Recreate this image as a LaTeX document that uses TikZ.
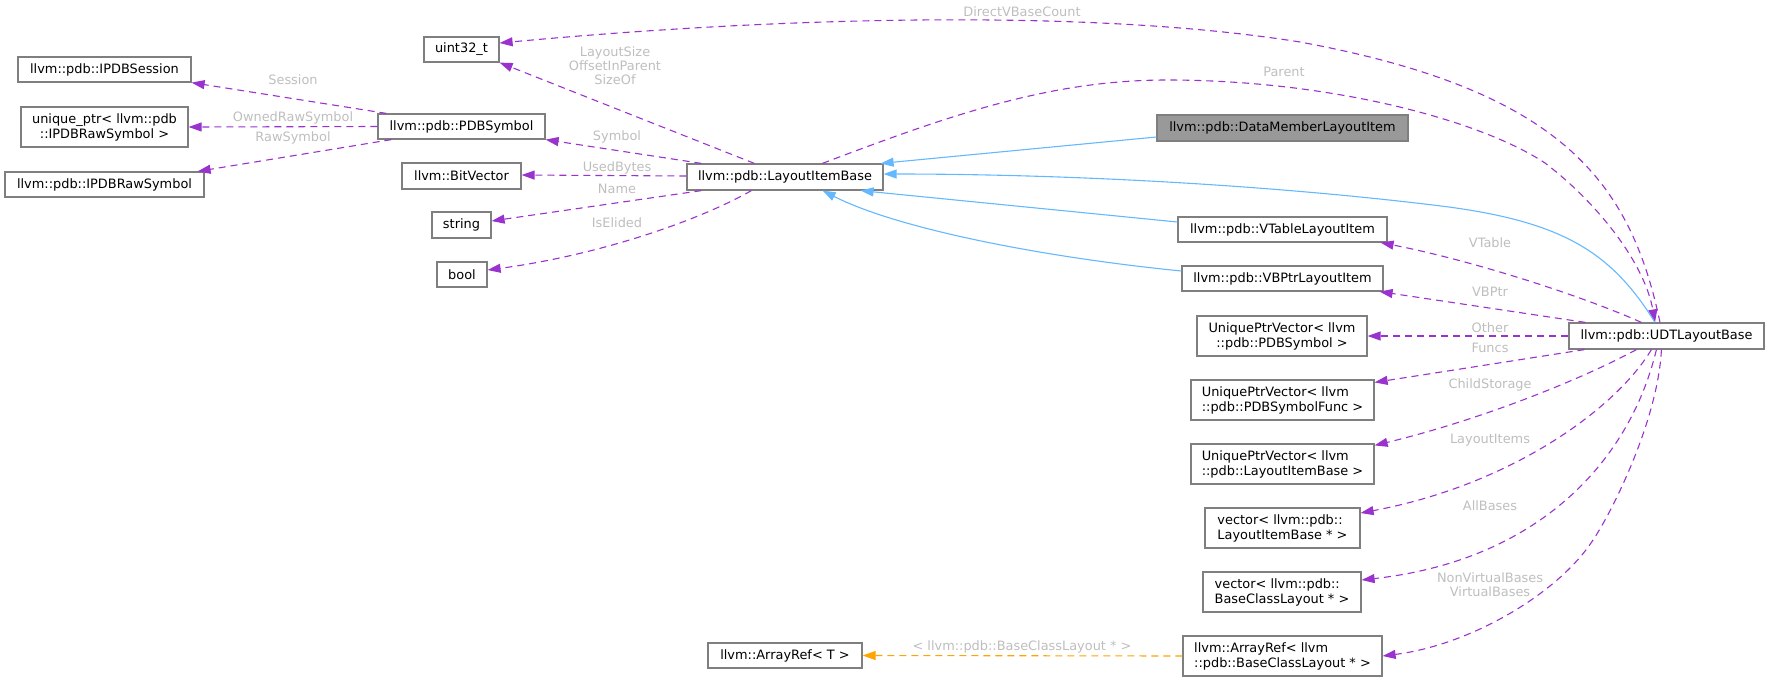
\documentclass[tikz,border=0pt]{standalone}
\usepackage{fontspec}
\setmainfont{DejaVu Sans}
\usetikzlibrary{arrows.meta}
\definecolor{purp}{HTML}{9A32CD}
\definecolor{blu}{HTML}{63B8FF}
\definecolor{orng}{HTML}{FFA500}
\definecolor{boxgray}{HTML}{7F7F7F}
\definecolor{lblgray}{HTML}{BEBEBE}
\definecolor{fillgray}{HTML}{999999}
\begin{document}
\begin{tikzpicture}[x=1pt,y=-1pt,
  box/.style={draw=boxgray, line width=1.2pt, fill=white, inner sep=0pt, text=black,
    font=\fontsize{12.9}{15}\selectfont},
  lbl/.style={text=lblgray, inner sep=0pt, font=\fontsize{12.9}{14}\selectfont, align=center},
  member/.style={draw=purp, line width=1.1pt, dash pattern=on 7pt off 5pt,
    -{Triangle[length=13pt,width=9pt,fill=purp]}},
  inherit/.style={draw=blu, line width=1.1pt, -{Triangle[length=13pt,width=9pt,fill=blu]}},
  tmpl/.style={draw=orng, line width=1.1pt, dash pattern=on 7pt off 5pt,
    -{Triangle[length=13pt,width=9pt,fill=orng]}}]
\useasboundingbox (0,0) rectangle (1769,681);

% nodes
\node[box, minimum width=173pt, minimum height=25pt] (ipdbsession) at (104.5,69.5) {llvm::pdb::IPDBSession};
\node[box, minimum width=167pt, minimum height=40pt, align=center] (uniqueptr) at (104.5,127) {unique\_ptr< llvm::pdb\\::IPDBRawSymbol >};
\node[box, minimum width=199pt, minimum height=25pt] (ipdbraw) at (104.5,184.5) {llvm::pdb::IPDBRawSymbol};
\node[box, minimum width=75pt, minimum height=25pt] (uint32) at (461.5,49.5) {uint32\_t};
\node[box, minimum width=167pt, minimum height=25pt] (pdbsym) at (461.5,126.5) {llvm::pdb::PDBSymbol};
\node[box, minimum width=119pt, minimum height=26pt] (bitvector) at (461.5,176) {llvm::BitVector};
\node[box, minimum width=59pt, minimum height=26pt] (string) at (461.5,225) {string};
\node[box, minimum width=50pt, minimum height=25pt] (bool) at (462,274.5) {bool};
\node[box, minimum width=196pt, minimum height=26pt] (lib) at (785,177) {llvm::pdb::LayoutItemBase};
\node[box, fill=fillgray, minimum width=251pt, minimum height=26pt] (datamember) at (1282.5,128) {llvm::pdb::DataMemberLayoutItem};
\node[box, minimum width=209pt, minimum height=25pt] (vtable) at (1282.5,229.5) {llvm::pdb::VTableLayoutItem};
\node[box, minimum width=201pt, minimum height=25pt] (vbptr) at (1282.5,278.5) {llvm::pdb::VBPtrLayoutItem};
\node[box, minimum width=170pt, minimum height=40pt, align=center] (upvsym) at (1282,336) {UniquePtrVector< llvm\\::pdb::PDBSymbol >};
\node[box, minimum width=183pt, minimum height=40pt, align=left] (upvfunc) at (1282.5,400) {UniquePtrVector< llvm\\::pdb::PDBSymbolFunc >};
\node[box, minimum width=183pt, minimum height=40pt, align=left] (upvlib) at (1282.5,464) {UniquePtrVector< llvm\\::pdb::LayoutItemBase >};
\node[box, minimum width=155pt, minimum height=40pt, align=left] (veclib) at (1282.5,528) {vector< llvm::pdb::\\LayoutItemBase * >};
\node[box, minimum width=158pt, minimum height=40pt, align=left] (vecbcl) at (1282,592) {vector< llvm::pdb::\\BaseClassLayout * >};
\node[box, minimum width=199pt, minimum height=40pt, align=left] (arrbcl) at (1282.5,656) {llvm::ArrayRef< llvm\\::pdb::BaseClassLayout * >};
\node[box, minimum width=154pt, minimum height=25pt] (arrt) at (785,655.5) {llvm::ArrayRef< T >};
\node[box, minimum width=195pt, minimum height=26pt] (udt) at (1666.5,336) {llvm::pdb::UDTLayoutBase};

% member edges
\draw[member] ([xshift=9pt]pdbsym.north west) -- (ipdbsession.south east);
\draw[member] (pdbsym.west) -- (uniqueptr.east);
\draw[member] ([xshift=14pt]pdbsym.south west) -- ([xshift=-7pt]ipdbraw.north east);
\draw[member] ([xshift=68pt]lib.north west) -- (uint32.south east);
\draw[member] ([xshift=-6.5pt]udt.north) .. controls (1630,180) and (1560,90) .. (1300,42)
   .. controls (1100,10) and (800,15) .. ([yshift=6.5pt]uint32.east);
\draw[member] ([xshift=15pt]lib.north west) -- (pdbsym.south east);
\draw[member] ([yshift=1pt]lib.west) -- ([yshift=1pt]bitvector.east);
\draw[member] ([xshift=15pt]lib.south west) -- ([yshift=4pt]string.east);
\draw[member] ([xshift=65pt]lib.south west) .. controls (700,220) and (600,255) .. ([yshift=4.5pt]bool.east);
\draw[member] ([xshift=136pt]lib.north west) .. controls (950,115) and (1050,80) .. (1167,80)
   .. controls (1330,80) and (1480,120) .. (1545,163)
   .. controls (1600,205) and (1645,265) .. ([xshift=-11.5pt]udt.north);
\draw[member] ([xshift=73pt]udt.north west) .. controls (1580,295) and (1470,260) .. ([xshift=-7pt]vtable.south east);
\draw[member] ([xshift=17pt]udt.north west) -- ([xshift=-4pt]vbptr.south east);
\draw[member] (udt.west) -- (upvsym.east);
\draw[member] ([xshift=16pt]udt.south west) -- ([yshift=-3pt]upvfunc.north east);
\draw[member] ([xshift=68pt]udt.south west) .. controls (1580,380) and (1480,420) .. ([yshift=-2pt]upvlib.north east);
\draw[member] ([xshift=83pt]udt.south west) .. controls (1615,410) and (1510,485) .. ([yshift=15pt]veclib.east);
\draw[member] ([xshift=88pt]udt.south west) .. controls (1630,460) and (1540,560) .. ([yshift=12pt]vecbcl.east);
\draw[member] ([xshift=93pt]udt.south west) .. controls (1658,420) and (1612,512) .. (1593,540)
   .. controls (1558,594) and (1470,645) .. (arrbcl.east);

% template edge
\draw[tmpl] (arrbcl.west) -- (arrt.east);

% inheritance edges
\draw[inherit] ([yshift=-9pt]datamember.west) -- ([xshift=-3pt]lib.north east);
\draw[inherit] ([xshift=-11.5pt]udt.north) .. controls (1610,250) and (1560,220) .. (1433,205)
   .. controls (1250,183) and (1050,174) .. ([yshift=3pt]lib.east);
\draw[inherit] ([yshift=7.5pt]vtable.west) -- ([xshift=-23pt]lib.south east);
\draw[inherit] ([yshift=7.5pt]vbptr.west) .. controls (1050,258) and (900,230) .. ([xshift=-61pt]lib.south east);

% edge labels
\node[lbl] (lSession) at (293,80) {Session};
\node[lbl] (lOwned) at (293,118) {OwnedRawSymbol};
\node[lbl] (lRaw) at (293,138) {RawSymbol};
\node[lbl] (lLayoutSize) at (615,66) {LayoutSize\\OffsetInParent\\SizeOf};
\node[lbl] (lDirect) at (1022,12) {DirectVBaseCount};
\node[lbl] (lParent) at (1284,72) {Parent};
\node[lbl] (lSymbol) at (617,137) {Symbol};
\node[lbl] (lUsed) at (617,168) {UsedBytes};
\node[lbl] (lName) at (617,189) {Name};
\node[lbl] (lElided) at (617,223) {IsElided};
\node[lbl] (lVTable) at (1490,243) {VTable};
\node[lbl] (lVBPtr) at (1490,292) {VBPtr};
\node[lbl] (lOther) at (1490,328) {Other};
\node[lbl] (lFuncs) at (1490,348) {Funcs};
\node[lbl] (lChild) at (1490,385) {ChildStorage};
\node[lbl] (lItems) at (1490,440) {LayoutItems};
\node[lbl] (lAll) at (1490,506) {AllBases};
\node[lbl] (lNVB) at (1490,585) {NonVirtualBases\\VirtualBases};
\node[lbl] (lTmpl) at (1022,647) {< llvm::pdb::BaseClassLayout * >};
\end{tikzpicture}
\end{document}
